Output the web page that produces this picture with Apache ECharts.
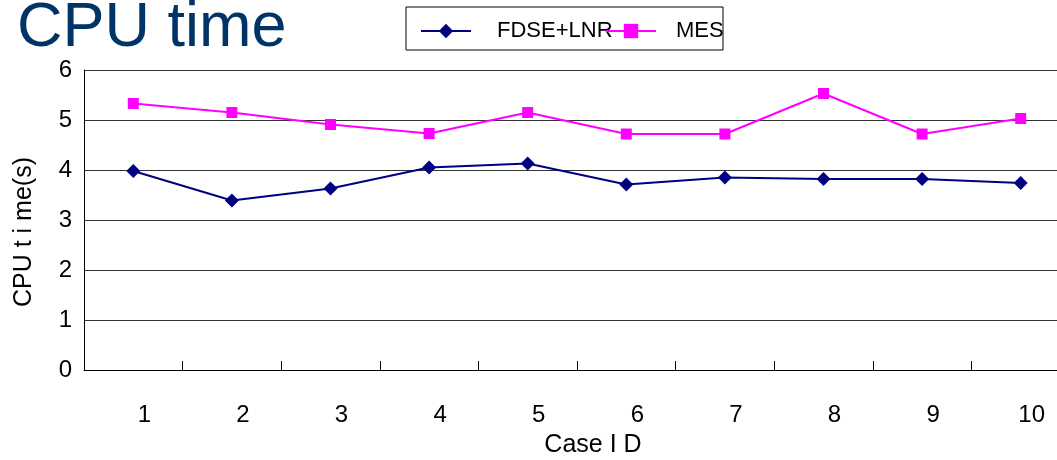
<!DOCTYPE html>
<html>
<head>
<meta charset="utf-8">
<script src="https://cdn.jsdelivr.net/npm/echarts@6/dist/echarts.min.js"></script>
<style>html,body{margin:0;padding:0;background:#fff}#c{width:1057px;height:460px}</style>
</head>
<body>
<div id="c"></div>
<script>
const categories = ['1','2','3','4','5','6','7','8','9','10'];
const fdseLnr = [3.98, 3.39, 3.63, 4.05, 4.13, 3.71, 3.85, 3.82, 3.82, 3.74];
const mes = [5.33, 5.15, 4.91, 4.73, 5.15, 4.72, 4.72, 5.53, 4.72, 5.03];
const yTicks = [0, 1, 2, 3, 4, 5, 6];

const FONT = 'Liberation Sans, Arial, sans-serif';
const chart = echarts.init(document.getElementById('c'), null, {renderer: 'canvas'});
chart.setOption({
  animation: false,
  backgroundColor: '#fff',
  title: {
    text: 'CPU time',
    left: 12, top: -8,
    textStyle: {color: '#003366', fontSize: 63, fontWeight: 'normal', fontFamily: FONT}
  },
  graphic: [{
    type: 'rect', shape: {x: 406, y: 7, width: 317, height: 43},
    style: {fill: '#fff', stroke: '#000', lineWidth: 1}, z: 0
  }],
  legend: [{
    data: ['FDSE+LNR'], left: 415, top: 15, itemWidth: 50, itemHeight: 18,
    textStyle: {fontSize: 22, fontFamily: FONT, color: '#000', padding: [0,0,0,21]}
  }, {
    data: ['MES'], left: 600, top: 15, itemWidth: 50, itemHeight: 18,
    textStyle: {fontSize: 22, fontFamily: FONT, color: '#000', padding: [0,0,0,15]}
  }],
  grid: {left: 84, top: 70, bottom: 90, right: -13, containLabel: false, outerBoundsMode: 'none'},
  xAxis: {
    type: 'category', data: categories, boundaryGap: true,
    name: 'Case I D', nameLocation: 'middle', nameGap: 63,
    nameTextStyle: {fontSize: 25, fontFamily: FONT, color: '#000', padding: [0,0,0,32]},
    axisLine: {lineStyle: {color: '#000', width: 1}},
    axisTick: {show: true, inside: true, length: 9, lineStyle: {color: '#000'}},
    axisLabel: {fontSize: 24, fontFamily: FONT, color: '#000', margin: 33, padding: [0,0,0,22]}
  },
  yAxis: {
    type: 'value', min: 0, max: 6, interval: 1,
    name: 'CPU t i me(s)', nameLocation: 'middle', nameGap: 47, nameRotate: 90,
    nameTextStyle: {fontSize: 25, fontFamily: FONT, color: '#000', padding: [0,24,0,0]},
    axisLine: {show: true, lineStyle: {color: '#000', width: 1}},
    axisTick: {show: false},
    axisLabel: {fontSize: 24, fontFamily: FONT, color: '#000', margin: 12,
      formatter: v => yTicks.indexOf(v) >= 0 ? String(v) : ''},
    splitLine: {show: true, lineStyle: {color: '#333', width: 1}}
  },
  series: [{
    name: 'FDSE+LNR', type: 'line', data: fdseLnr,
    symbol: 'diamond', symbolSize: 14, showAllSymbol: true,
    lineStyle: {color: '#000080', width: 2},
    itemStyle: {color: '#000080'}
  }, {
    name: 'MES', type: 'line', data: mes,
    symbol: 'rect', symbolSize: 11, showAllSymbol: true,
    lineStyle: {color: '#FF00FF', width: 2},
    itemStyle: {color: '#FF00FF'}
  }]
});
</script>
</body>
</html>
